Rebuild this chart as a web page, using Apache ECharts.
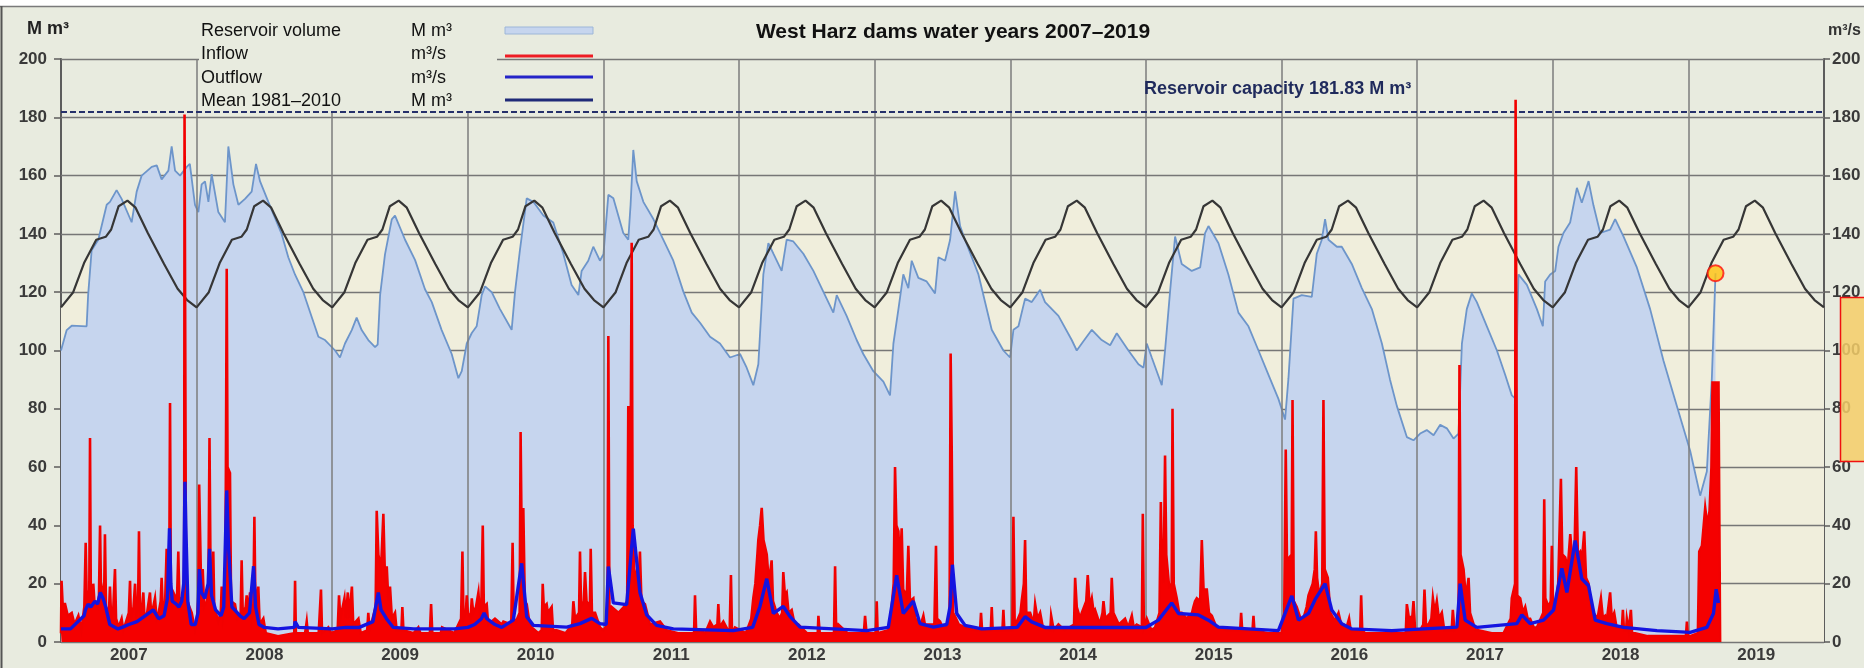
<!DOCTYPE html>
<html>
<head>
<meta charset="utf-8">
<script src="https://cdn.jsdelivr.net/npm/echarts@6/dist/echarts.min.js"></script>
<style>
html,body{margin:0;padding:0;background:#fff;}
#chart{width:1864px;height:668px;}
</style>
</head>
<body>
<div id="chart"></div>
<script>
// x values: years elapsed since the start of water year 2007 (1 Nov 2006)
const waterYears = ['2007','2008','2009','2010','2011','2012','2013','2014','2015','2016','2017','2018','2019'];
const gridLevels = [0,20,40,60,80,100,120,140,160,180,200];
const capacity = 181.83;

// Mean storage 1981–2010 over one water year (fraction of year, M m³)
const meanCycle = [[0,114.8],[0.09,120],[0.17,130],[0.26,138],[0.33,139],[0.37,141.5],[0.425,149.5],[0.49,151.4],[0.55,149],[0.64,140.3],[0.76,129.7],[0.86,121.2],[0.93,117.3]];

// Reservoir volume, M m³
const volume2007_2010 = [[0,100],[0.042,107],[0.079,108.5],[0.189,108.3],[0.2,119],[0.226,134.4],[0.275,138],[0.337,150],[0.361,151],[0.41,155],[0.447,152],[0.521,144],[0.558,154.5],[0.595,160],[0.669,163],[0.706,163.5],[0.742,158.7],[0.792,161.7],[0.816,170],[0.841,161.7],[0.878,160],[0.927,163],[0.95,164],[0.988,150],[1.013,147.5],[1.037,157],[1.062,158],[1.087,151],[1.111,160.5],[1.16,147.5],[1.209,144],[1.234,170],[1.271,157],[1.308,150],[1.357,152],[1.406,154.5],[1.438,164],[1.468,158],[1.529,151],[1.627,140],[1.676,132],[1.726,126],[1.787,120],[1.898,104.7],[1.947,103.6],[2.021,100],[2.057,97.6],[2.094,102.4],[2.144,107],[2.18,111.3],[2.217,107],[2.266,103.6],[2.316,101.2],[2.335,102],[2.353,119],[2.389,133],[2.439,145],[2.463,146.3],[2.537,138],[2.611,131],[2.684,121],[2.734,116.6],[2.807,107],[2.881,98.8],[2.93,90.5],[2.955,92.9],[2.992,102.4],[3.029,106],[3.065,108.3],[3.102,119],[3.127,122],[3.176,120],[3.237,114.2],[3.323,107.1],[3.348,120.2],[3.384,134.4],[3.434,152.2],[3.483,151],[3.557,146.3],[3.63,143.9],[3.704,133.2],[3.765,122.5],[3.815,119],[3.839,127.3],[3.888,130.8],[3.925,135.6],[3.974,130.8]];
const volume2011_2013 = [[4.0,133],[4.036,153.4],[4.073,152.2],[4.146,140.3],[4.183,138],[4.2,150],[4.22,168.8],[4.245,158.1],[4.294,151],[4.368,145.1],[4.441,138],[4.515,130.8],[4.589,120.2],[4.651,113],[4.712,109.5],[4.786,104.7],[4.859,102.4],[4.933,97.6],[5.007,98.8],[5.056,94.1],[5.105,88.1],[5.142,95.3],[5.179,126.1],[5.216,136.8],[5.253,133.2],[5.314,127.3],[5.351,138],[5.4,137.4],[5.474,133.2],[5.548,127.3],[5.621,120.2],[5.695,113],[5.72,119],[5.793,111.9],[5.867,103.6],[5.916,98.8],[5.99,92.9],[6.064,89.3],[6.113,84.6],[6.138,102.4],[6.175,114.2],[6.211,126.1],[6.248,121.4],[6.273,130.8],[6.322,124.9],[6.383,123.7],[6.445,119.6],[6.47,132],[6.519,130.8],[6.556,138],[6.593,154.6],[6.63,142.7],[6.666,138],[6.765,126.1],[6.863,107.1],[6.949,100]];
const volume2014_2016 = [[6.998,97.6],[7.023,107.1],[7.06,108.3],[7.109,117.8],[7.158,116.6],[7.22,120.8],[7.256,116.6],[7.355,111.9],[7.453,103.6],[7.49,100],[7.527,102.4],[7.601,107.1],[7.674,103.6],[7.736,101.8],[7.785,105.9],[7.871,100],[7.945,95.3],[7.982,94.1],[8.006,102.4],[8.043,97.6],[8.117,88.1],[8.141,100],[8.178,120.2],[8.215,139.1],[8.264,129.7],[8.338,127.3],[8.4,128.5],[8.436,140.3],[8.461,142.7],[8.535,136.8],[8.608,126.1],[8.682,113],[8.756,108.3],[8.83,100],[8.903,91.7],[8.977,83.4],[9.026,76.3],[9.051,90.5],[9.088,117.8],[9.149,119],[9.223,118.4],[9.26,133.2],[9.297,138],[9.321,145.1],[9.346,138],[9.408,135.6],[9.444,135.6],[9.518,129.7],[9.592,121.4],[9.666,114.2],[9.74,102.4],[9.8,90]];
const volume2017_2019 = [[9.85,81],[9.924,70.3],[9.973,69.2],[10.022,71.5],[10.071,72.7],[10.121,70.9],[10.17,74.5],[10.219,73.3],[10.268,69.8],[10.305,71.5],[10.33,102.4],[10.366,114.2],[10.403,119.6],[10.44,116.6],[10.514,108.3],[10.588,100],[10.649,91.7],[10.698,84.6],[10.727,83.4],[10.747,126.1],[10.809,122.5],[10.883,114.2],[10.927,108.3],[10.944,123.7],[10.981,126.1],[11.018,127.3],[11.042,135.6],[11.079,140.3],[11.128,143.9],[11.178,155.8],[11.214,150.7],[11.264,158.1],[11.3,149.8],[11.35,140.3],[11.423,141.5],[11.46,145.1],[11.522,139.1],[11.62,128.5],[11.718,114.2],[11.817,96.4],[11.915,81],[12.013,65.6],[12.087,50.2],[12.136,58.5],[12.173,90.5],[12.2,126.5]];

// Inflow, m³/s
const inflow2007_2010 = [[0,3],[0.004,21],[0.012,13],[0.03,13],[0.05,9],[0.079,10],[0.1,6],[0.128,9],[0.15,4],[0.172,12],[0.182,34],[0.19,14],[0.2,16],[0.208,12],[0.214,70],[0.22,14],[0.232,15],[0.238,20],[0.246,14],[0.27,12],[0.28,16],[0.288,40],[0.296,14],[0.31,18],[0.318,16],[0.324,37],[0.332,12],[0.345,10],[0.355,12],[0.361,19],[0.37,8],[0.386,12],[0.398,25],[0.406,8],[0.425,5],[0.447,8],[0.46,4],[0.5,10],[0.509,21],[0.516,8],[0.535,12],[0.546,20],[0.555,9],[0.568,12],[0.575,38],[0.582,10],[0.598,12],[0.607,17],[0.615,9],[0.635,10],[0.656,17],[0.664,10],[0.68,12],[0.693,15],[0.705,8],[0.72,10],[0.735,14],[0.742,22],[0.75,12],[0.768,14],[0.779,32],[0.788,16],[0.798,20],[0.804,82],[0.81,18],[0.82,14],[0.828,17],[0.838,16],[0.855,14],[0.865,31],[0.873,14],[0.89,15],[0.9,16],[0.908,14],[0.911,181],[0.917,181],[0.922,16],[0.939,13],[0.964,10],[0.988,4],[1.0,6],[1.012,14],[1.019,54],[1.028,54],[1.036,12],[1.045,25],[1.055,12],[1.075,14],[1.087,20],[1.095,70],[1.103,22],[1.115,18],[1.123,31],[1.13,12],[1.16,7],[1.178,10],[1.185,19],[1.194,8],[1.21,12],[1.216,60],[1.222,128],[1.228,60],[1.246,58],[1.254,14],[1.283,13],[1.3,8],[1.325,10],[1.332,28],[1.34,10],[1.362,12],[1.369,16],[1.38,10],[1.394,17],[1.405,8],[1.418,12],[1.426,43],[1.434,12],[1.455,19],[1.465,6],[1.492,8],[1.51,3],[1.6,2],[1.72,3],[1.726,21],[1.732,3],[1.8,3],[1.812,7],[1.82,3],[1.9,3],[1.917,18],[1.925,3],[1.971,5],[1.99,3],[2.04,4],[2.05,16],[2.06,8],[2.09,15],[2.1,8],[2.115,17],[2.125,8],[2.145,19],[2.155,6],[2.193,8],[2.21,3],[2.258,4],[2.266,10],[2.275,4],[2.32,12],[2.328,45],[2.34,30],[2.36,25],[2.37,25],[2.377,44],[2.39,20],[2.402,26],[2.414,14],[2.426,19],[2.44,8],[2.463,10],[2.475,4],[2.51,4],[2.517,12],[2.525,4],[2.6,3],[2.635,5],[2.65,3],[2.72,3],[2.729,13],[2.738,3],[2.8,3],[2.81,5],[2.9,3],[2.93,6],[2.95,8],[2.96,31],[2.968,8],[2.985,10],[2.992,16],[3.0,10],[3.02,8],[3.029,15],[3.04,10],[3.06,12],[3.078,17],[3.088,10],[3.1,14],[3.11,40],[3.118,12],[3.139,13],[3.15,6],[3.2,8],[3.25,6],[3.262,7],[3.32,6],[3.33,34],[3.338,8],[3.355,7],[3.382,10],[3.389,72],[3.398,30],[3.409,46],[3.42,14],[3.434,13],[3.45,8],[3.471,5],[3.52,3],[3.545,4],[3.552,20],[3.56,12],[3.581,13],[3.59,10],[3.618,12],[3.628,4],[3.655,4],[3.72,3],[3.77,6],[3.778,14],[3.79,8],[3.82,10],[3.827,31],[3.835,12],[3.855,14],[3.864,24],[3.875,14],[3.9,12],[3.906,32],[3.915,10],[3.938,10],[3.974,5]];
const inflow2011_2013 = [[4.0,4],[4.03,6],[4.036,105],[4.044,10],[4.06,12],[4.073,12],[4.11,10],[4.15,12],[4.175,14],[4.183,81],[4.19,30],[4.2,60],[4.208,137],[4.215,40],[4.23,20],[4.245,24],[4.257,18],[4.269,31],[4.28,14],[4.306,13],[4.343,6],[4.417,7],[4.466,4],[4.55,3],[4.668,3],[4.675,16],[4.684,3],[4.712,4],[4.75,3],[4.786,7],[4.81,5],[4.84,6],[4.847,13],[4.856,5],[4.884,7],[4.93,3],[4.94,23],[4.948,3],[4.97,5],[5.05,3],[5.09,8],[5.105,15],[5.12,20],[5.135,30],[5.142,35],[5.155,40],[5.167,46],[5.18,35],[5.204,30],[5.22,20],[5.24,28],[5.25,14],[5.277,10],[5.3,8],[5.318,10],[5.326,24],[5.338,16],[5.351,17],[5.365,10],[5.388,11],[5.41,6],[5.437,6],[5.5,3],[5.58,3],[5.585,9],[5.595,3],[5.621,3],[5.7,3],[5.708,26],[5.716,4],[5.732,6],[5.8,3],[5.92,3],[5.929,9],[5.94,3],[5.98,3],[6.008,3],[6.015,14],[6.022,3],[6.1,4],[6.113,6],[6.14,20],[6.15,60],[6.16,40],[6.175,38],[6.185,25],[6.199,39],[6.21,18],[6.224,17],[6.236,15],[6.248,33],[6.26,14],[6.285,15],[6.3,8],[6.322,7],[6.34,6],[6.359,9],[6.37,6],[6.408,6],[6.44,6],[6.452,33],[6.46,8],[6.482,7],[6.5,5],[6.519,5],[6.552,8],[6.56,99],[6.568,66],[6.578,10],[6.6,8],[6.62,6],[6.666,5],[6.75,4],[6.777,4],[6.784,10],[6.792,4],[6.856,4],[6.863,12],[6.87,4],[6.942,4],[6.949,11],[6.956,4]];
const inflow2014_2016 = [[7.015,4],[7.023,43],[7.032,7],[7.048,7],[7.075,10],[7.084,14],[7.1,20],[7.109,35],[7.118,10],[7.146,10],[7.16,8],[7.175,8],[7.183,13],[7.2,8],[7.22,10],[7.24,5],[7.295,4],[7.301,9],[7.32,4],[7.355,6],[7.4,4],[7.47,6],[7.478,22],[7.49,12],[7.502,12],[7.515,8],[7.527,10],[7.56,14],[7.571,23],[7.585,12],[7.601,15],[7.615,10],[7.625,11],[7.66,6],[7.68,10],[7.687,14],[7.7,8],[7.711,8],[7.74,10],[7.748,22],[7.76,10],[7.773,10],[7.8,6],[7.846,8],[7.87,5],[7.896,9],[7.91,5],[7.932,6],[7.97,5],[7.977,44],[7.985,5],[8.006,8],[8.04,4],[8.068,5],[8.1,10],[8.11,48],[8.117,28],[8.13,20],[8.141,64],[8.15,30],[8.171,19],[8.19,20],[8.196,80],[8.205,20],[8.227,15],[8.245,10],[8.264,10],[8.3,8],[8.34,10],[8.35,12],[8.362,14],[8.375,15],[8.4,14],[8.412,35],[8.425,18],[8.449,18],[8.465,10],[8.486,9],[8.52,5],[8.6,4],[8.695,4],[8.702,10],[8.71,4],[8.786,4],[8.793,9],[8.8,4],[8.9,3],[9.0,3],[9.02,10],[9.031,66],[9.04,28],[9.051,28],[9.075,30],[9.081,83],[9.09,14],[9.112,12],[9.14,8],[9.161,8],[9.185,12],[9.199,16],[9.23,20],[9.245,25],[9.253,38],[9.262,22],[9.277,16],[9.3,20],[9.309,83],[9.318,25],[9.341,22],[9.36,10],[9.383,8],[9.4,8],[9.42,10],[9.44,6],[9.457,6],[9.48,5],[9.498,8],[9.51,4],[9.58,4],[9.587,16],[9.595,4],[9.616,3],[9.7,3],[9.8,3],[9.9,3]];
const inflow2017_2019 = [[9.916,3],[9.924,13],[9.94,8],[9.965,9],[9.973,14],[9.985,4],[10.022,4],[10.045,6],[10.054,18],[10.065,6],[10.084,6],[10.105,8],[10.116,15],[10.13,10],[10.145,14],[10.16,8],[10.182,10],[10.2,4],[10.219,4],[10.255,4],[10.263,11],[10.275,4],[10.293,5],[10.305,6],[10.312,95],[10.32,30],[10.342,25],[10.36,15],[10.379,22],[10.39,10],[10.403,10],[10.43,4],[10.452,4],[10.55,3],[10.637,3],[10.69,8],[10.698,15],[10.722,20],[10.726,186],[10.732,186],[10.738,16],[10.76,15],[10.78,10],[10.797,12],[10.815,8],[10.833,8],[10.86,5],[10.883,5],[10.93,10],[10.937,49],[10.945,15],[10.969,12],[10.985,14],[10.993,33],[11.002,12],[11.018,11],[11.04,20],[11.06,56],[11.07,30],[11.092,29],[11.11,25],[11.129,37],[11.145,28],[11.16,30],[11.173,60],[11.185,30],[11.202,31],[11.215,28],[11.232,38],[11.245,22],[11.264,20],[11.28,12],[11.3,10],[11.33,8],[11.355,15],[11.37,8],[11.387,9],[11.4,8],[11.423,17],[11.435,8],[11.453,10],[11.47,5],[11.51,5],[11.517,11],[11.525,4],[11.54,4],[11.546,8],[11.56,4],[11.576,11],[11.585,3],[11.608,3],[11.7,2],[11.768,2],[11.9,2],[11.982,2],[11.989,7],[11.996,2],[12.013,2],[12.07,3],[12.08,31],[12.1,33],[12.124,46],[12.14,40],[12.156,45],[12.17,60],[12.178,89],[12.222,89],[12.234,0]];

// Outflow, m³/s
const outflow2007_2010 = [[0,4.5],[0.07,4.5],[0.17,9],[0.18,11],[0.2,13],[0.22,12],[0.25,14],[0.27,13],[0.29,17],[0.31,15],[0.33,12],[0.36,6],[0.42,4.5],[0.45,5],[0.5,6],[0.56,7],[0.62,9],[0.68,11],[0.72,8],[0.76,9],[0.785,15],[0.8,39],[0.81,20],[0.82,14],[0.85,13],[0.87,12],[0.89,14],[0.905,20],[0.914,55],[0.92,40],[0.935,14],[0.96,6],[0.99,6],[1.01,10],[1.02,25],[1.035,17],[1.06,15],[1.085,20],[1.095,32],[1.11,16],[1.14,11],[1.18,9],[1.2,12],[1.222,52],[1.235,33],[1.26,12],[1.28,11],[1.32,9],[1.35,8],[1.39,10],[1.42,26],[1.435,12],[1.46,6],[1.5,5],[1.6,4.5],[1.72,5],[1.726,7],[1.75,5],[2.0,4.5],[2.1,5],[2.2,5],[2.3,7],[2.32,12],[2.34,17],[2.36,11],[2.4,8],[2.45,5],[2.6,4.5],[2.9,4.5],[3.0,5],[3.05,6],[3.1,8],[3.12,10],[3.14,8],[3.2,6],[3.25,5],[3.335,7.5],[3.397,27],[3.434,8.7],[3.483,5.7],[3.729,5.1],[3.827,6.3],[3.913,8.1],[3.974,6.3]];
const outflow2011_2013 = [[4.02,6],[4.036,25.9],[4.073,13.4],[4.171,12.8],[4.22,38.9],[4.269,17],[4.319,9.3],[4.392,5.7],[4.515,4.5],[4.958,3.9],[5.1,5],[5.154,12.2],[5.204,21.7],[5.253,9.8],[5.326,12.2],[5.376,8.7],[5.45,5.1],[5.941,3.9],[6.1,5],[6.138,15.8],[6.162,22.9],[6.211,9.8],[6.285,14],[6.334,6.3],[6.433,5.1],[6.531,6],[6.556,12.2],[6.573,26.5],[6.605,9.8],[6.666,5.7],[6.789,4.5]];
const outflow2014_2016 = [[7.05,5],[7.109,8.7],[7.158,6.9],[7.256,5],[8.0,5],[8.092,7.5],[8.19,13.4],[8.24,9.8],[8.387,9.3],[8.461,7.5],[8.535,5.1],[8.977,3.9],[9.076,15.8],[9.125,7.5],[9.199,9.8],[9.248,14.6],[9.321,20],[9.37,11],[9.444,6.3],[9.518,4.5],[9.813,3.9]];
const outflow2017_2019 = [[10.047,4.5],[10.293,5.1],[10.317,20],[10.354,7.5],[10.44,5],[10.735,6.3],[10.772,9.3],[10.833,6.3],[10.932,7.5],[11.006,11],[11.067,25.3],[11.104,17],[11.165,34.8],[11.214,21.7],[11.264,19.3],[11.313,7.5],[11.399,6.3],[11.522,5],[11.768,3.9],[12.013,3.3],[12.136,5],[12.185,9.8],[12.205,18.1],[12.222,13.4]];

// Legend rows
const legendNames = ['Reservoir volume', 'Inflow', 'Outflow', 'Mean 1981–2010'];
const legendUnits = ['M m³', 'm³/s', 'm³/s', 'M m³'];

const BG = '#e8ebdf';
const FONT = '"Liberation Sans", Arial, sans-serif';
const GRID = { left: 61, top: 59, width: 1763, height: 583 };

const meanData = [];
waterYears.forEach((_, i) => meanCycle.forEach(([f, v]) => meanData.push([i + f, v])));
meanData.push([waterYears.length, meanCycle[0][1]]);
const volumeData = [].concat(volume2007_2010, volume2011_2013, volume2014_2016, volume2017_2019);
const inflowData = [].concat(inflow2007_2010, inflow2011_2013, inflow2014_2016, inflow2017_2019);
const outflowData = [].concat(outflow2007_2010, outflow2011_2013, outflow2014_2016, outflow2017_2019);
const lastVolume = volumeData[volumeData.length - 1];
const yearBoundaries = waterYears.slice(1).map((_, i) => i + 1);

const rowY = [31, 54, 78, 101];
const legendGraphics = [];
// panel behind the legend rows that sit inside the plot
legendGraphics.push({ type: 'rect', z: 100, shape: { x: 199, y: 57, width: 298, height: 54 }, style: { fill: BG } });
legendNames.forEach((name, i) => {
  legendGraphics.push({ type: 'text', z: 101, x: 201, y: rowY[i], style: { text: name, font: '18px ' + FONT, fill: '#111', verticalAlign: 'middle' } });
  legendGraphics.push({ type: 'text', z: 101, x: 411, y: rowY[i], style: { text: legendUnits[i], font: '18px ' + FONT, fill: '#111', verticalAlign: 'middle' } });
});
legendGraphics.push({ type: 'rect', z: 101, shape: { x: 505, y: rowY[0] - 4, width: 88, height: 7 }, style: { fill: '#c6d5ee', stroke: '#9db6d8', lineWidth: 1 } });
legendGraphics.push({ type: 'line', z: 101, shape: { x1: 505, y1: rowY[1] + 2, x2: 593, y2: rowY[1] + 2 }, style: { stroke: '#ee1c24', lineWidth: 3 } });
legendGraphics.push({ type: 'line', z: 101, shape: { x1: 505, y1: rowY[2] - 1, x2: 593, y2: rowY[2] - 1 }, style: { stroke: '#2424c8', lineWidth: 3 } });
legendGraphics.push({ type: 'line', z: 101, shape: { x1: 505, y1: rowY[3] - 1, x2: 593, y2: rowY[3] - 1 }, style: { stroke: '#1f2a78', lineWidth: 3 } });

const chart = echarts.init(document.getElementById('chart'));
chart.setOption({
  animation: false,
  backgroundColor: BG,
  textStyle: { fontFamily: FONT },
  grid: GRID,
  xAxis: [
    { type: 'value', min: 0, max: waterYears.length, interval: 1, show: false },
    { type: 'category', data: waterYears, position: 'bottom', boundaryGap: true,
      axisLine: { show: false }, axisTick: { show: false }, splitLine: { show: false },
      axisLabel: { fontFamily: FONT, fontWeight: 'bold', fontSize: 17, color: '#3a3a3a', margin: 5 } }
  ],
  yAxis: [
    { type: 'value', min: 0, max: 200, interval: 20, position: 'left',
      axisLine: { show: true, lineStyle: { color: '#5c5c5c', width: 2 } },
      axisTick: { show: true, length: 7, lineStyle: { color: '#5c5c5c', width: 1.5 } },
      axisLabel: { fontFamily: FONT, fontWeight: 'bold', fontSize: 17, color: '#3a3a3a', margin: 14 },
      splitLine: { show: false } },
    { type: 'value', min: 0, max: 200, interval: 20, position: 'right',
      axisLine: { show: true, lineStyle: { color: '#5c5c5c', width: 2 } },
      axisTick: { show: true, length: 6, lineStyle: { color: '#5c5c5c', width: 1.5 } },
      axisLabel: { fontFamily: FONT, fontWeight: 'bold', fontSize: 17, color: '#3a3a3a', margin: 8 },
      splitLine: { show: false } }
  ],
  series: [
    { name: 'Mean 1981–2010 band', type: 'line', data: meanData, symbol: 'none', silent: true, z: 1,
      lineStyle: { width: 0 }, areaStyle: { color: '#f0eedc', opacity: 1 },
      markLine: { silent: true, symbol: 'none', z: 2, label: { show: false },
        lineStyle: { color: '#767676', width: 1.4, type: 'solid' },
        data: gridLevels.map(v => ({ yAxis: v })) } },
    { name: 'Reservoir volume', type: 'line', data: volumeData, symbol: 'none', silent: true, z: 3,
      lineStyle: { color: '#6d95ca', width: 1.8 }, areaStyle: { color: '#c6d5ee', opacity: 1 },
      markLine: { silent: true, symbol: 'none', z: 4, label: { show: false },
        lineStyle: { color: '#7c7c7c', width: 1.5, type: 'solid' },
        data: yearBoundaries.map(v => ({ xAxis: v })) } },
    { name: 'Mean 1981–2010', type: 'line', data: meanData, symbol: 'none', silent: true, z: 5,
      lineStyle: { color: '#363636', width: 2.2 },
      markLine: { silent: true, symbol: 'none', z: 5, label: { show: false },
        lineStyle: { color: '#25306a', width: 2, type: [6, 3] },
        data: [{ yAxis: capacity }] } },
    { name: 'Inflow', type: 'line', yAxisIndex: 1, data: inflowData, symbol: 'none', silent: true, z: 6,
      lineStyle: { color: '#f20000', width: 2.6, join: 'miter' }, areaStyle: { color: '#f50000', opacity: 1 } },
    { name: 'Outflow', type: 'line', yAxisIndex: 1, data: outflowData, symbol: 'none', silent: true, z: 7,
      lineStyle: { color: '#1414e0', width: 3.4 } },
    { name: 'Latest volume', type: 'scatter', data: [lastVolume], symbol: 'circle', symbolSize: 16, z: 8, silent: true,
      itemStyle: { color: '#ffc20e', borderColor: '#ff1010', borderWidth: 2 } }
  ],
  graphic: { elements: [
    { type: 'rect', z: 100, shape: { x: 0, y: 0, width: 1864, height: 6 }, style: { fill: '#ffffff' } },
    { type: 'line', z: 100, shape: { x1: 0, y1: 6.5, x2: 1864, y2: 6.5 }, style: { stroke: '#7a7a7a', lineWidth: 1.5 } },
    { type: 'line', z: 100, shape: { x1: 1.5, y1: 6, x2: 1.5, y2: 668 }, style: { stroke: '#555', lineWidth: 2 } },
    { type: 'text', z: 101, x: 953, y: 32, style: { text: 'West Harz dams water years ' + waterYears[0] + '–' + waterYears[waterYears.length - 1], font: 'bold 21px ' + FONT, fill: '#111', align: 'center', verticalAlign: 'middle' } },
    { type: 'text', z: 101, x: 27, y: 29, style: { text: 'M m³', font: 'bold 18px ' + FONT, fill: '#222', verticalAlign: 'middle' } },
    { type: 'text', z: 101, x: 1828, y: 31, style: { text: 'm³/s', font: 'bold 16px ' + FONT, fill: '#333', verticalAlign: 'middle' } },
    { type: 'text', z: 101, x: 1144, y: 89, style: { text: 'Reservoir capacity ' + capacity.toFixed(2) + ' M m³', font: 'bold 18px ' + FONT, fill: '#1f2a5c', verticalAlign: 'middle' } },
    { type: 'rect', z: 100, shape: { x: 1840.5, y: 297.5, width: 40, height: 164 }, style: { fill: 'rgba(244,206,104,0.85)', stroke: '#f01010', lineWidth: 1.5 } }
  ].concat(legendGraphics) }
});
</script>
</body>
</html>
